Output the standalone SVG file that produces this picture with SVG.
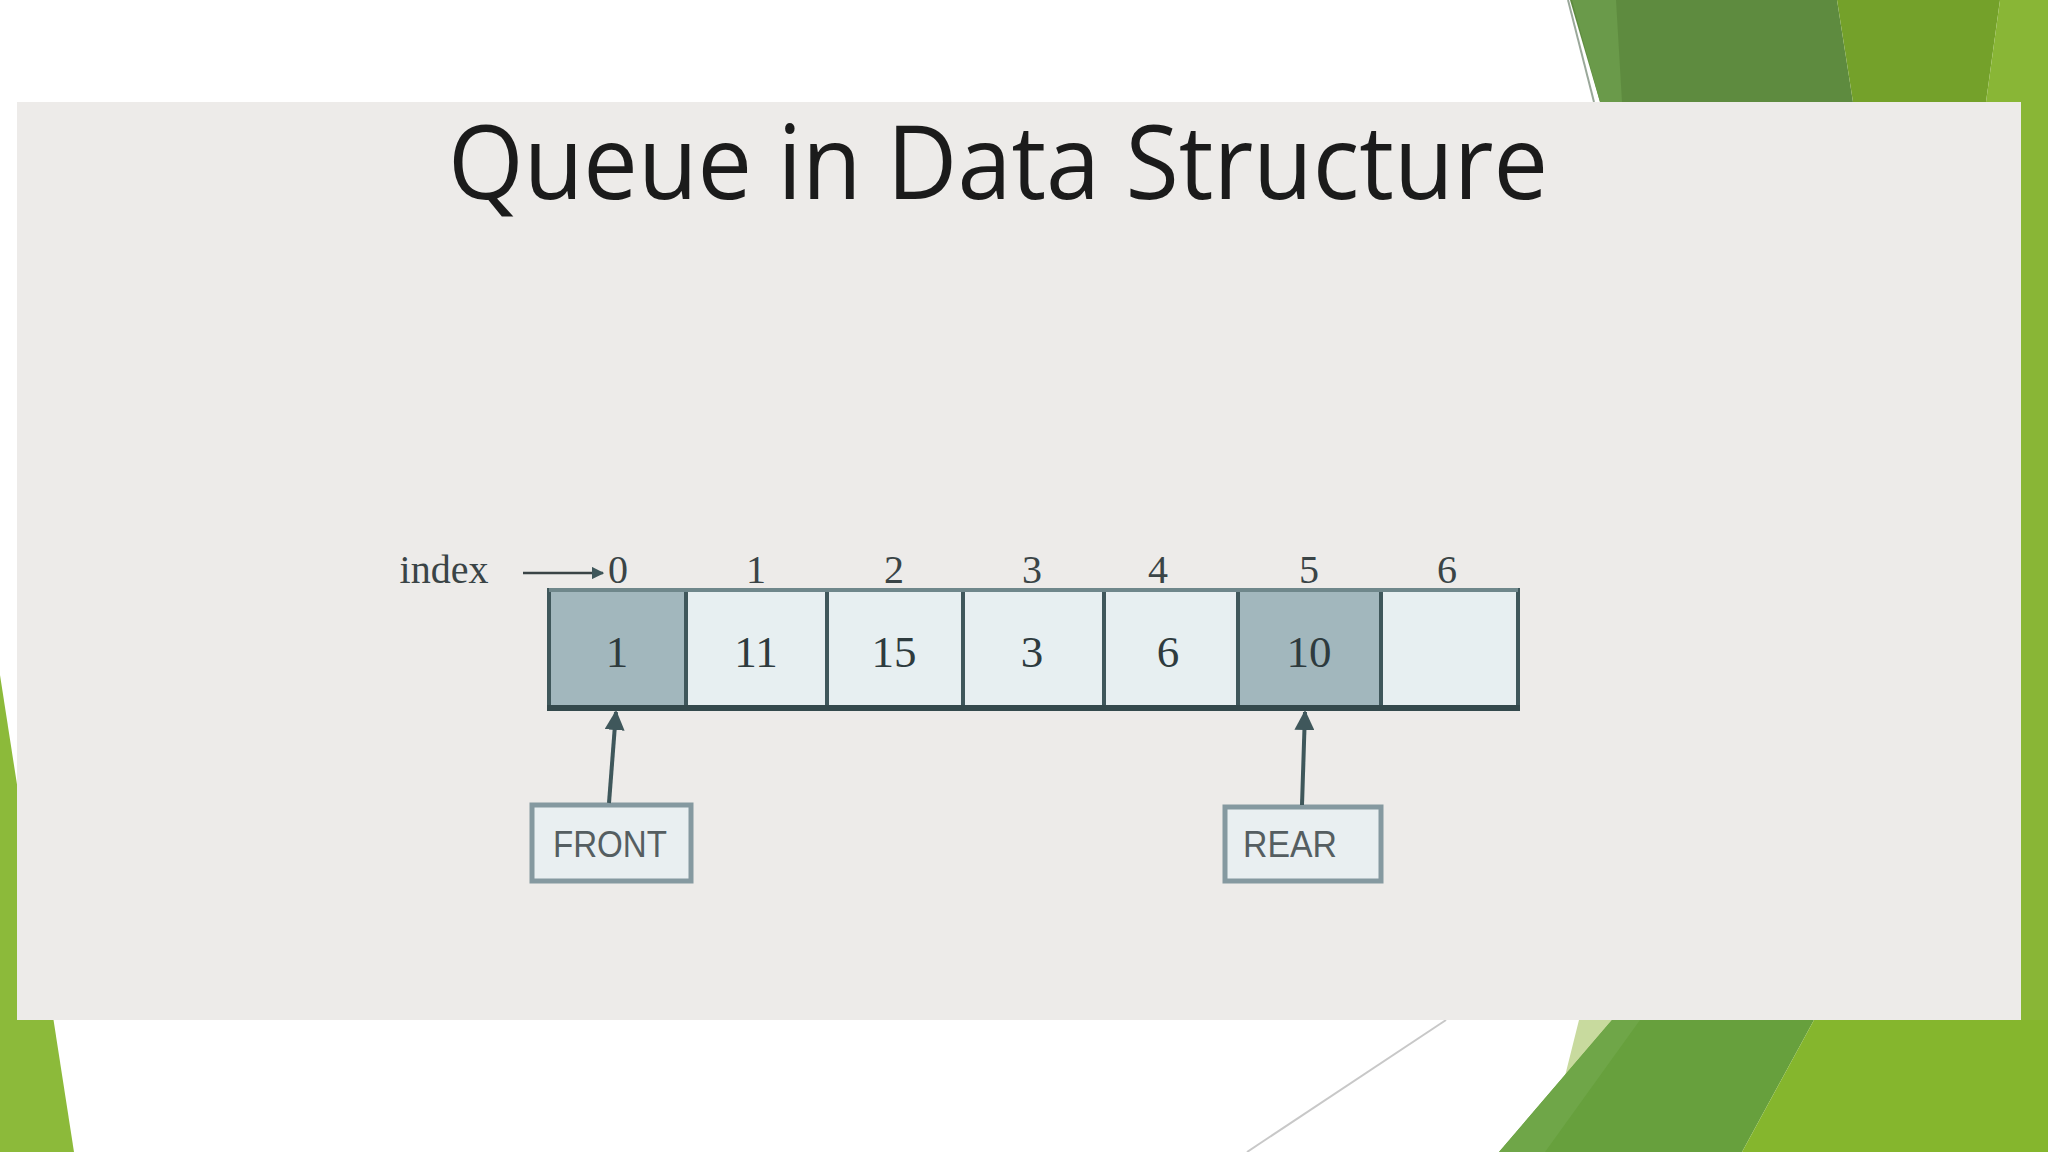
<svg xmlns="http://www.w3.org/2000/svg" width="2048" height="1152" viewBox="0 0 2048 1152">
<style>
.cell{stroke:#3F575B;stroke-width:4}
.dark{fill:#A2B7BD}
.light{fill:#E7EFF1}
.val{font-family:"Liberation Serif",serif;font-size:45px;fill:#2E3B3E;text-anchor:middle}
.idx{font-family:"Liberation Serif",serif;font-size:40px;fill:#3A4446;text-anchor:middle}
.ptr{fill:#E9EFF1;stroke:#8599A0;stroke-width:5}
.ptrtxt{font-family:"Liberation Sans",sans-serif;font-size:36px;fill:#555E61;text-anchor:middle}
.conn{stroke:#3F575B;stroke-width:4;fill:none}
</style>
<defs>
<marker id="ah" viewBox="0 0 10 10" refX="9" refY="5" markerWidth="5" markerHeight="5" orient="auto" markerUnits="strokeWidth">
<path d="M0,0 L10,5 L0,10 Z" fill="#3F575B"/>
</marker>
</defs>
<rect x="0" y="0" width="2048" height="1152" fill="#FFFFFF"/>
<g id="decor">
<polygon points="0,675 74,1152 0,1152" fill="#8CBA3A"/>
<polygon points="1570,0 1837,0 1853,102 1600,102" fill="#5E8B3F"/>
<polygon points="1572,0 1616,0 1622,102 1600,102" fill="#6A9A4A"/>
<line x1="1568" y1="0" x2="1594" y2="102" stroke="#9AA89A" stroke-width="2"/>
<polygon points="1837,0 2000,0 1986,102 1853,102" fill="#74A12A"/>
<polygon points="2000,0 2048,0 2048,1152 2010,1152 1986,102" fill="#89B636"/>
<polygon points="1579,1020 1612,1020 1563,1084" fill="#C8DA9E"/>
<polygon points="1612,1020 1814,1020 1742,1152 1499,1152" fill="#67A03D"/>
<polygon points="1612,1020 1640,1020 1545,1152 1499,1152" fill="#6FA648"/>
<polygon points="1814,1020 2048,1020 2048,1152 1742,1152" fill="#85B62D"/>
<line x1="1446" y1="1020" x2="1247" y2="1152" stroke="#C8C8C8" stroke-width="2"/>
</g>
<rect id="panel" x="17" y="102" width="2004" height="918" fill="#EDEBE9"/>
<text id="title" x="448" y="199" font-family="Open Sans, Liberation Sans, sans-serif" font-size="102" fill="#1B1B1B" textLength="1100" lengthAdjust="spacingAndGlyphs">Queue in Data Structure</text>
<g id="index-labels">
<text x="444" y="583" class="idx">index</text>
<text x="618" y="583" class="idx">0</text>
<text x="756" y="583" class="idx">1</text>
<text x="894" y="583" class="idx">2</text>
<text x="1032" y="583" class="idx">3</text>
<text x="1158" y="583" class="idx">4</text>
<text x="1309" y="583" class="idx">5</text>
<text x="1447" y="583" class="idx">6</text>
</g>
<g id="array">
<g id="cell0"><rect x="549" y="590" width="137" height="118" class="cell dark"/><text x="617" y="667" class="val">1</text></g>
<g id="cell1"><rect x="686" y="590" width="141" height="118" class="cell light"/><text x="756" y="667" class="val">11</text></g>
<g id="cell2"><rect x="827" y="590" width="136" height="118" class="cell light"/><text x="894" y="667" class="val">15</text></g>
<g id="cell3"><rect x="963" y="590" width="141" height="118" class="cell light"/><text x="1032" y="667" class="val">3</text></g>
<g id="cell4"><rect x="1104" y="590" width="134" height="118" class="cell light"/><text x="1168" y="667" class="val">6</text></g>
<g id="cell5"><rect x="1238" y="590" width="143" height="118" class="cell dark"/><text x="1309" y="667" class="val">10</text></g>
<g id="cell6"><rect x="1381" y="590" width="137" height="118" class="cell light"/></g>
<line x1="547" y1="708" x2="1520" y2="708" stroke="#34494C" stroke-width="6"/>
<line x1="549" y1="590" x2="1518" y2="590" stroke="#6F878B" stroke-width="4"/>
</g>
<g id="front">
<rect x="532" y="805" width="159" height="76" class="ptr"/>
<text x="610" y="857" class="ptrtxt" textLength="114" lengthAdjust="spacingAndGlyphs">FRONT</text>
</g>
<g id="rear">
<rect x="1225" y="807" width="156" height="74" class="ptr"/>
<text x="1290" y="857" class="ptrtxt" textLength="94" lengthAdjust="spacingAndGlyphs">REAR</text>
</g>
<g id="connectors">
<line x1="523" y1="573" x2="603" y2="573" stroke="#3A4446" stroke-width="2.5" marker-end="url(#ah)"/>
<line x1="609" y1="803" x2="616" y2="712" class="conn" marker-end="url(#ah)"/>
<line x1="1302" y1="805" x2="1305" y2="712" class="conn" marker-end="url(#ah)"/>
</g>
</svg>
